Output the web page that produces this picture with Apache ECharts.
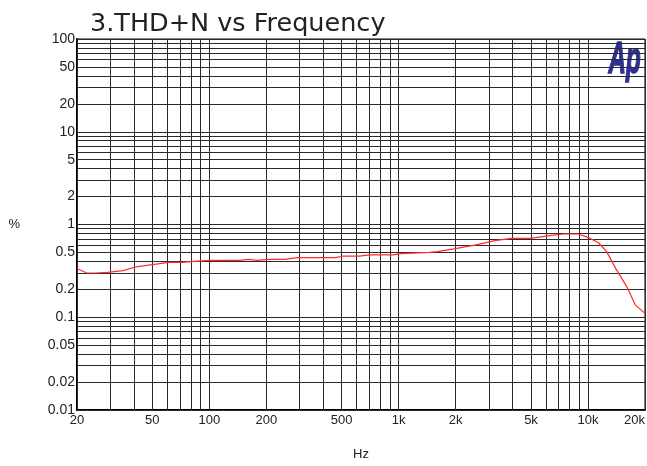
<!DOCTYPE html>
<html>
<head>
<meta charset="utf-8">
<script src="https://cdn.jsdelivr.net/npm/echarts@6/dist/echarts.min.js"></script>
<style>
  html, body { margin: 0; padding: 0; background: #fff; }
  #chart { width: 647px; height: 466px; }
</style>
</head>
<body>
<div id="chart"></div>
<script>
// 测量数据 (Hz, %)
const freqHz = [20, 22.5, 25, 29, 35, 41, 50, 61, 71, 87, 101, 145, 160, 180, 205, 250, 292, 460, 506, 620,
  700, 930, 1030, 1460, 1600, 1960, 2520, 3230, 3940, 4970, 6240, 7430, 8850, 9770, 11340, 12540, 14070, 16100, 17800, 20000]
const thdPct = [0.335, 0.30, 0.30, 0.305, 0.318, 0.35, 0.37, 0.39, 0.39, 0.403, 0.41, 0.41, 0.42, 0.41, 0.42, 0.42, 0.44, 0.44, 0.455, 0.455,
  0.47, 0.47, 0.485, 0.50, 0.51, 0.545, 0.60, 0.67, 0.71, 0.71, 0.76, 0.79, 0.79, 0.74, 0.64, 0.51, 0.33, 0.21, 0.135, 0.11]

// 网格线
const xGrid = [20, 30, 40, 50, 60, 70, 80, 90, 100, 200, 300, 400, 500, 600, 700, 800, 900,
  1000, 2000, 3000, 4000, 5000, 6000, 7000, 8000, 9000, 10000, 20000]
const yGrid = [0.01, 0.02, 0.03, 0.04, 0.05, 0.06, 0.07, 0.08, 0.09, 0.1, 0.2, 0.3, 0.4, 0.5, 0.6, 0.7, 0.8, 0.9,
  1, 2, 3, 4, 5, 6, 7, 8, 9, 10, 20, 30, 40, 50, 60, 70, 80, 90, 100]

// 刻度标签
const xTicks = [20, 50, 100, 200, 500, 1000, 2000, 5000, 10000, 20000]
const xTickText = ['20', '50', '100', '200', '500', '1k', '2k', '5k', '10k', '20k']
const yTicks = [0.01, 0.02, 0.05, 0.1, 0.2, 0.5, 1, 2, 5, 10, 20, 50, 100]
const yTickText = ['0.01', '0.02', '0.05', '0.1', '0.2', '0.5', '1', '2', '5', '10', '20', '50', '100']

const font = 'Liberation Sans, Arial, sans-serif'
const gridColor = '#2a2a2a'

const chart = echarts.init(document.getElementById('chart'))

const lines = []
xGrid.forEach(v => {
  const i = xTicks.indexOf(v)
  lines.push({
    xAxis: v,
    label: i < 0 ? { show: false } : {
      show: true, position: 'start', distance: 4, formatter: xTickText[i],
      color: '#222', fontSize: 13, fontFamily: font,
      align: v === 20000 ? 'right' : 'center'
    }
  })
})
yGrid.forEach(v => {
  const i = yTicks.indexOf(v)
  lines.push({
    yAxis: v,
    label: i < 0 ? { show: false } : {
      show: true, position: 'start', distance: 2, formatter: yTickText[i],
      color: '#222', fontSize: 14, fontFamily: font
    }
  })
})

const data = freqHz.map((f, i) => [f, thdPct[i]])

chart.setOption({
  animation: false,
  title: {
    text: '3.THD+N vs Frequency',
    left: 85,
    top: 6,
    textStyle: { fontSize: 25.5, fontWeight: 'normal', color: '#222', fontFamily: 'DejaVu Sans, sans-serif' }
  },
  grid: {
    left: 77, right: 2, top: 39, bottom: 50,
    show: true, borderColor: '#000', borderWidth: 1
  },
  xAxis: {
    type: 'log', logBase: 10, min: 20, max: 20000,
    name: 'Hz', nameLocation: 'middle', nameGap: 38,
    nameTextStyle: { color: '#222', fontSize: 13, fontFamily: font },
    axisLine: { lineStyle: { color: '#000', width: 2 } },
    axisTick: { show: false },
    axisLabel: { show: false },
    splitLine: { show: false }
  },
  yAxis: {
    type: 'log', logBase: 10, min: 0.01, max: 100,
    name: '%', nameLocation: 'middle', nameGap: 57, nameRotate: 0,
    nameTextStyle: { color: '#222', fontSize: 13, fontFamily: font },
    axisLine: { show: true, lineStyle: { color: '#000', width: 2 } },
    axisTick: { show: false },
    axisLabel: { show: false },
    splitLine: { show: false }
  },
  graphic: [{
    type: 'text',
    left: 608, top: 38,
    scaleX: 0.55,
    style: {
      text: 'Ap', fill: '#2e3192', stroke: '#2e3192', lineWidth: 1.5,
      font: 'italic bold 44px Liberation Sans, Arial, sans-serif'
    }
  }],
  series: [{
    type: 'line',
    z: 10,
    data: data,
    showSymbol: false,
    lineStyle: { color: '#ff2a2a', width: 1.2 },
    markLine: {
      silent: true,
      symbol: ['none', 'none'],
      lineStyle: { color: gridColor, width: 1, type: 'solid' },
      emphasis: { disabled: true },
      data: lines
    }
  }]
})
</script>
</body>
</html>
